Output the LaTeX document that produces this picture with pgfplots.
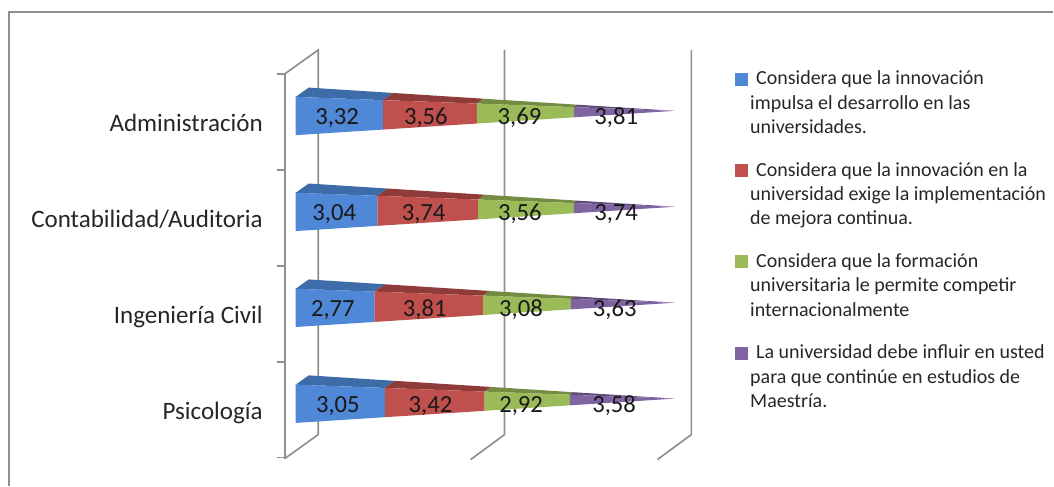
\documentclass[border=0pt]{standalone}
\usepackage{pgfplots}
\pgfplotsset{compat=1.18}
\usepackage{fontspec}
\setmainfont{Carlito}
\definecolor{cB}{HTML}{4F88D6}\definecolor{cBd}{HTML}{3E6CA8}
\definecolor{cR}{HTML}{C0504D}\definecolor{cRd}{HTML}{8E3B3A}
\definecolor{cG}{HTML}{9BBB59}\definecolor{cGd}{HTML}{748C42}
\definecolor{cP}{HTML}{8064A2}\definecolor{cPd}{HTML}{604B7A}
\definecolor{wall}{HTML}{8F8F8F}
\newcommand\seg[5]{% row, from, to, front colour, top colour
  \pgfmathsetmacro\ya{#1-14*(1-#2/100)/96}%
  \pgfmathsetmacro\yb{#1-14*(1-#3/100)/96}%
  \pgfmathsetmacro\yc{#1+24.3*(1-#3/100)/96}%
  \pgfmathsetmacro\yd{#1+24.3*(1-#2/100)/96}%
  \pgfmathsetmacro\xe{3.43+0.9657*#3}%
  \pgfmathsetmacro\xf{3.43+0.9657*#2}%
  \pgfmathsetmacro\ye{#1-23.3*(1-#3/100)/96}%
  \pgfmathsetmacro\yf{#1-23.3*(1-#2/100)/96}%
  \edef\tmp{\noexpand\addplot[fill=#5,draw=none,forget plot] coordinates {(#2,\ya) (#3,\yb) (\xe,\ye) (\xf,\yf)};
    \noexpand\addplot[fill=#4,draw=none,forget plot] coordinates {(#2,\ya) (#3,\yb) (#3,\yc) (#2,\yd)};}%
  \tmp}
\newcommand\lab[4]{% row, from, to, text
  \pgfmathsetmacro\mid{(#2+#3)/2}%
  \pgfmathsetmacro\lx{\mid-(1.5+7.5*\mid/100)/3.79}%
  \pgfmathsetmacro\ly{#1+14/96}%
  \edef\tmp{\noexpand\node[anchor=base,inner sep=0pt,font=\noexpand\fontsize{18.5pt}{20pt}\noexpand\selectfont,text=black!90] at (axis cs:\lx,\ly) {#4};}%
  \tmp}
\newcommand\row[5]{% row and four values
  \pgfmathsetmacro\tot{#2+#3+#4+#5}%
  \pgfmathsetmacro\pa{100*#2/\tot}%
  \pgfmathsetmacro\pb{100*(#2+#3)/\tot}%
  \pgfmathsetmacro\pc{100*(#2+#3+#4)/\tot}%
  \edef\pA{\pa}\edef\pB{\pb}\edef\pC{\pc}%
  \seg{#1}{0}{\pA}{cB}{cBd}%
  \seg{#1}{\pA}{\pB}{cR}{cRd}%
  \seg{#1}{\pB}{\pC}{cG}{cGd}%
  \seg{#1}{\pC}{100}{cP}{cPd}%
  \lab{#1}{0}{\pA}{\fmt{#2}}%
  \lab{#1}{\pA}{\pB}{\fmt{#3}}%
  \lab{#1}{\pB}{\pC}{\fmt{#4}}%
  \lab{#1}{\pC}{100}{\fmt{#5}}}
\newcommand\fmt[1]{\fmtx#1\relax}
\def\fmtx#1.#2\relax{#1,#2}
\begin{document}
\begin{tikzpicture}[x=0.75pt,y=-0.75pt]
\path (0,0) rectangle (1054,486);
\draw[wall,line width=1.5pt] (9.5,486) -- (9.5,12.5) -- (1054,12.5);
\begin{scope}[wall,line width=1.25pt]
\draw (285,74) -- (318.5,50) -- (318.5,435) -- (285,459);
\draw (505,50) -- (505,435) -- (471,460);
\draw (692,50) -- (692,435) -- (658,460);
\end{scope}
\begin{axis}[
  at={(213.75pt,-344.25pt)},
  anchor=south west,
  scale only axis,width=305.25pt,height=288.75pt,
  xmin=-2.902,xmax=104.485,ymin=-0.385,ymax=3.625,
  y dir=reverse,
  axis y line=left,axis x line=none,
  axis line style={wall,line width=1.25pt,-},
  ytick={0,1,2,3},
  yticklabels={Administración,Contabilidad/Auditoria,Ingeniería Civil,Psicología},
  minor ytick={-0.385,0.615,1.615,2.615,3.615},
  major tick length=0pt,
  minor tick length=6pt,
  tick align=outside,
  minor tick style={wall,line width=1.25pt},
  yticklabel style={font=\fontsize{18.8pt}{20pt}\selectfont,text=black!85,text height=13pt,text depth=4pt,xshift=-13pt,yshift=-11pt},
  clip=false,
]
\row{0}{3.32}{3.56}{3.69}{3.81}
\row{1}{3.04}{3.74}{3.56}{3.74}
\row{2}{2.77}{3.81}{3.08}{3.63}
\row{3}{3.05}{3.42}{2.92}{3.58}
\end{axis}
\begin{axis}[
  at={(0pt,-364.5pt)},anchor=south west,
  scale only axis,width=790.5pt,height=364.5pt,
  xmin=0,xmax=1054,ymin=0,ymax=486,y dir=reverse,
  hide axis,
  legend style={at={(axis cs:736,68)},anchor=north west,draw=none,fill=none,
    font=\fontsize{15pt}{18.2pt}\selectfont,text=black!85,
    row sep=52.7pt,inner sep=0pt},
  legend cell align=left,
]
\addlegendimage{only marks,mark=square*,mark size=4.5pt,cB}
\addlegendentry{\parbox[t]{225pt}{\hspace*{4.5pt}Considera que la innovación\\impulsa el desarrollo en las\\universidades.}}
\addlegendimage{only marks,mark=square*,mark size=4.5pt,cR}
\addlegendentry{\parbox[t]{225pt}{\hspace*{4.5pt}Considera que la innovación en la\\universidad exige la implementación\\de mejora continua.}}
\addlegendimage{only marks,mark=square*,mark size=4.5pt,cG}
\addlegendentry{\parbox[t]{225pt}{\hspace*{4.5pt}Considera que la formación\\universitaria le permite competir\\internacionalmente}}
\addlegendimage{only marks,mark=square*,mark size=4.5pt,cP}
\addlegendentry{\parbox[t]{225pt}{\hspace*{4.5pt}La universidad debe influir en usted\\para que continúe en estudios de\\Maestría.}}
\end{axis}
\end{tikzpicture}
\end{document}
